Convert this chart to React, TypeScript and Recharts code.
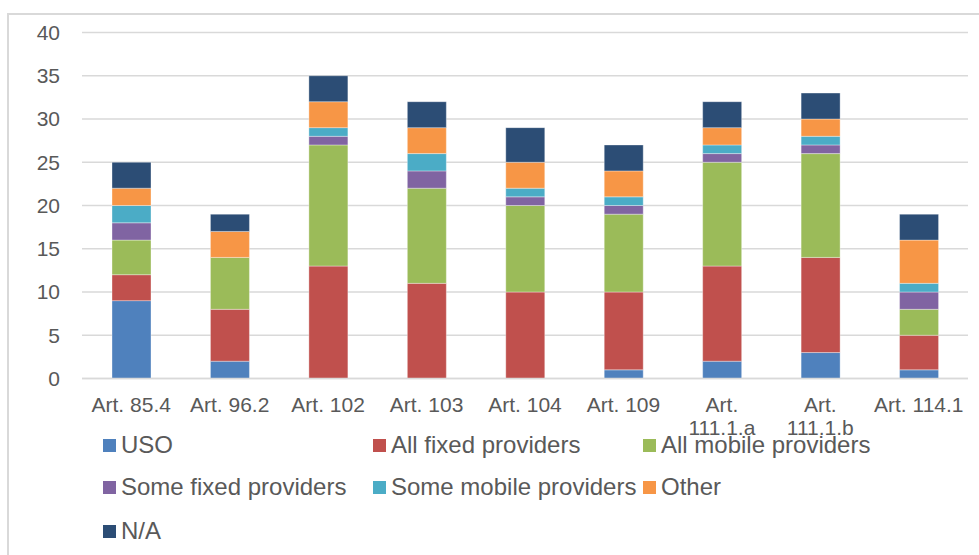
import React from 'react';
import { BarChart, Bar, XAxis, YAxis, CartesianGrid } from 'recharts';

const categories = [
    'Art. 85.4',
    'Art. 96.2',
    'Art. 102',
    'Art. 103',
    'Art. 104',
    'Art. 109',
    'Art. 111.1.a',
    'Art. 111.1.b',
    'Art. 114.1',
];

const uso = [9, 2, 0, 0, 0, 1, 2, 3, 1];
const allFixed = [3, 6, 13, 11, 10, 9, 11, 11, 4];
const allMobile = [4, 6, 14, 11, 10, 9, 12, 12, 3];
const someFixed = [2, 0, 1, 2, 1, 1, 1, 1, 2];
const someMobile = [2, 0, 1, 2, 1, 1, 1, 1, 1];
const other = [2, 3, 3, 3, 3, 3, 2, 2, 5];
const na = [3, 2, 3, 3, 4, 3, 3, 3, 3];

const yTicks = [0, 5, 10, 15, 20, 25, 30, 35, 40];

const SERIES = [
    { key: 'uso', name: 'USO', values: uso, color: '#4F81BD' },
    { key: 'allFixed', name: 'All fixed providers', values: allFixed, color: '#C0504D' },
    { key: 'allMobile', name: 'All mobile providers', values: allMobile, color: '#9BBB59' },
    { key: 'someFixed', name: 'Some fixed providers', values: someFixed, color: '#8064A2' },
    { key: 'someMobile', name: 'Some mobile providers', values: someMobile, color: '#4BACC6' },
    { key: 'other', name: 'Other', values: other, color: '#F79646' },
    { key: 'na', name: 'N/A', values: na, color: '#2C4D75' },
];

const data = categories.map((name, i) => {
    const row: any = { name };
    SERIES.forEach((s) => {
        row[s.key] = s.values[i];
    });
    return row;
});

const FONT = '"Liberation Sans", Arial, sans-serif';
const TEXT = '#595959';
const GRID = '#d9d9d9';

// long labels wrap onto a second line, like the original
const CategoryTick = (props: any) => {
    const { x, y, payload } = props;
    const label: string = payload.value;
    const lines = label.length > 10 ? [label.slice(0, label.indexOf(' ')), label.slice(label.indexOf(' ') + 1)] : [label];
    return (
        <text x={x} y={y} textAnchor="middle" fill={TEXT} fontSize={21} fontFamily={FONT}>
            {lines.map((l, i) => (
                <tspan key={i} x={x} dy={i === 0 ? 33 : 23}>
                    {l}
                </tspan>
            ))}
        </text>
    );
};

const LEGEND_COLS = [103, 373, 643];
const LEGEND_ROWS = [445, 487, 531];

const App: React.FC = () => {
    return (
        <div style={{ position: 'fixed', left: 0, top: 0, width: 979, height: 555, background: '#fff', overflow: 'hidden', fontFamily: FONT }}>
            {/* chart frame, cropped on the right and bottom */}
            <div
                style={{
                    position: 'absolute',
                    left: 7,
                    top: 13,
                    width: 1000,
                    height: 600,
                    borderLeft: `2px solid ${GRID}`,
                    borderTop: `2px solid ${GRID}`,
                    boxSizing: 'border-box',
                }}
            />
            <div style={{ position: 'absolute', left: 0, top: 0 }}>
                <BarChart
                    width={979}
                    height={555}
                    data={data}
                    barSize={39}
                    margin={{ top: 32.5, right: 11, bottom: 0, left: 0 }}
                >
                    <CartesianGrid vertical={false} stroke={GRID} strokeWidth={1.5} />
                    <XAxis
                        dataKey="name"
                        interval={0}
                        height={176.5}
                        axisLine={{ stroke: GRID, strokeWidth: 1.5 }}
                        tickLine={false}
                        tickSize={0}
                        tickMargin={0}
                        tick={<CategoryTick />}
                    />
                    <YAxis
                        width={82}
                        domain={[0, 40]}
                        ticks={yTicks}
                        axisLine={false}
                        tickLine={false}
                        tickSize={0}
                        tickMargin={22}
                        tick={{ fill: TEXT, fontSize: 21, fontFamily: FONT }}
                    />
                    {SERIES.map((s) => (
                        <Bar
                            key={s.key}
                            dataKey={s.key}
                            name={s.name}
                            stackId="a"
                            fill={s.color}
                            stroke="#ffffff"
                            strokeOpacity={0.35}
                            strokeWidth={1}
                            isAnimationActive={false}
                        />
                    ))}
                </BarChart>
            </div>
            {SERIES.map((s, i) => {
                const col = LEGEND_COLS[i % 3];
                const row = LEGEND_ROWS[Math.floor(i / 3)];
                return (
                    <div
                        key={s.key}
                        style={{
                            position: 'absolute',
                            left: col,
                            top: row - 15,
                            height: 30,
                            display: 'flex',
                            alignItems: 'center',
                            whiteSpace: 'nowrap',
                            fontSize: 24,
                            color: TEXT,
                        }}
                    >
                        <span style={{ display: 'inline-block', width: 13, height: 13, background: s.color, marginRight: 5 }} />
                        {s.name}
                    </div>
                );
            })}
        </div>
    );
};

export default App;
